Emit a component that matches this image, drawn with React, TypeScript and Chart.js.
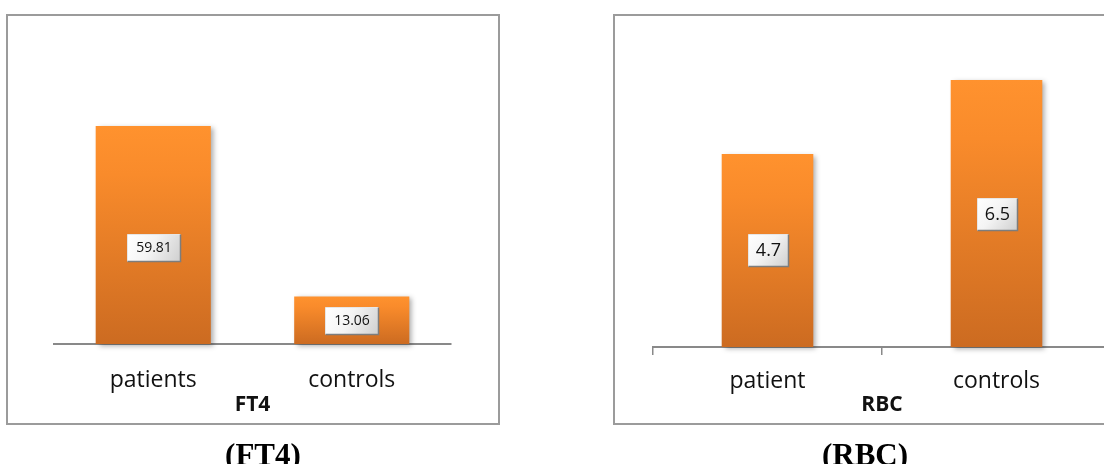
import React, { useEffect, useRef } from "react";
import { Chart, registerables } from "chart.js";

Chart.register(...registerables);

// FT4 panel
const ft4Categories = ["patients", "controls"];
const ft4Values = [59.81, 13.06];
const ft4Title = "FT4";
const ft4Caption = "(FT4)";

// RBC panel
const rbcCategories = ["patient", "controls"];
const rbcValues = [4.7, 6.5];
const rbcTitle = "RBC";
const rbcCaption = "(RBC)";

const FONT = '"Open Sans", "Noto Sans", sans-serif';
const AXIS_GREY = "#898989";

// Soft drop shadow behind the bars
const barShadow = {
  id: "barShadow",
  beforeDatasetsDraw(chart: any) {
    const c = chart.ctx;
    c.save();
    c.shadowColor = "rgba(0,0,0,0.32)";
    c.shadowBlur = 5;
    c.shadowOffsetX = 3;
    c.shadowOffsetY = 2;
  },
  afterDatasetsDraw(chart: any) {
    chart.ctx.restore();
  },
};

// Bevelled value boxes in the middle of each bar
const valueBoxes = {
  id: "valueBoxes",
  afterDatasetsDraw(chart: any, _args: any, opts: any) {
    const { ctx } = chart;
    const meta = chart.getDatasetMeta(0);
    const values = chart.data.datasets[0].data as number[];
    const shifts: number[] = opts.shiftY || [];
    ctx.save();
    ctx.font = `${opts.size}px ${FONT}`;
    ctx.textAlign = "center";
    ctx.textBaseline = "middle";
    meta.data.forEach((bar: any, i: number) => {
      const { x, y, base } = bar.getProps(["x", "y", "base"], true);
      const cy = (y + base) / 2 + (shifts[i] || 0);
      const text = String(values[i]);
      const tw = ctx.measureText(text).width;
      const w = Math.round(tw + opts.padX * 2);
      const h = opts.boxH;
      const bx = Math.round(x - w / 2) + 0.5;
      const by = Math.round(cy - h / 2) + 0.5;
      const g = ctx.createLinearGradient(bx, by, bx + w, by + h);
      g.addColorStop(0, "#ffffff");
      g.addColorStop(0.45, "#f4f4f4");
      g.addColorStop(1, "#cfcfcf");
      ctx.fillStyle = g;
      ctx.fillRect(bx, by, w, h);
      ctx.lineWidth = 1;
      ctx.strokeStyle = "#e6e6e6";
      ctx.beginPath();
      ctx.moveTo(bx, by + h);
      ctx.lineTo(bx, by);
      ctx.lineTo(bx + w, by);
      ctx.stroke();
      ctx.lineWidth = 1.5;
      ctx.strokeStyle = "#7d7d7d";
      ctx.beginPath();
      ctx.moveTo(bx + w, by);
      ctx.lineTo(bx + w, by + h);
      ctx.lineTo(bx, by + h);
      ctx.stroke();
      ctx.fillStyle = "#111111";
      ctx.fillText(text, bx + w / 2, by + h / 2 + 0.5);
    });
    ctx.restore();
  },
};

function barGradient(context: any) {
  const chart = context.chart;
  const yScale = chart.scales?.y;
  if (!yScale || context.type !== "data" || !context.parsed) return "#f58a2b";
  const top = yScale.getPixelForValue(context.parsed.y);
  const bottom = yScale.getPixelForValue(0);
  if (!isFinite(top) || !isFinite(bottom) || top === bottom) return "#f58a2b";
  const g = chart.ctx.createLinearGradient(0, top, 0, bottom);
  g.addColorStop(0, "#ff922e");
  g.addColorStop(0.22, "#f98b2b");
  g.addColorStop(1, "#cc6b21");
  return g;
}

type PanelProps = {
  categories: string[];
  values: number[];
  title: string;
  yMax: number;
  left: number;
  width: number;
  padding: { left: number; right: number; top: number; bottom: number };
  axisHeight: number;
  tickPad: number;
  tickMarks: boolean;
  barPercentage: number;
  valueSize: number;
  valuePadX: number;
  valueBoxH: number;
  valueShiftY?: number[];
};

function BarPanel(p: PanelProps) {
  const ref = useRef<HTMLCanvasElement>(null);
  useEffect(() => {
    if (!ref.current) return;
    const chart = new Chart(ref.current, {
      type: "bar",
      data: {
        labels: p.categories,
        datasets: [
          {
            data: p.values,
            backgroundColor: barGradient,
            borderWidth: 0,
            barPercentage: p.barPercentage,
            categoryPercentage: 1,
            clip: false as any,
          },
        ],
      },
      options: {
        responsive: false,
        animation: false,
        devicePixelRatio: 1,
        layout: { padding: p.padding },
        plugins: {
          legend: { display: false },
          tooltip: { enabled: false },
          valueBoxes: {
            size: p.valueSize,
            padX: p.valuePadX,
            boxH: p.valueBoxH,
            shiftY: p.valueShiftY,
          },
        } as any,
        scales: {
          x: {
            afterFit: (s: any) => {
              s.height = p.axisHeight;
            },
            grid: {
              display: p.tickMarks,
              drawOnChartArea: false,
              drawTicks: p.tickMarks,
              tickLength: p.tickMarks ? 8 : 0,
              color: AXIS_GREY,
              lineWidth: 1.5,
            },
            border: { display: true, color: AXIS_GREY, width: 2 },
            ticks: {
              color: "#111111",
              padding: p.tickPad,
              font: { family: FONT, size: 23 },
            },
            title: {
              display: true,
              text: p.title,
              color: "#111111",
              font: { family: FONT, size: 21, weight: "bold" },
              padding: { top: 0, bottom: 6 },
            },
          },
          y: { display: false, min: 0, max: p.yMax },
        },
      },
      plugins: [barShadow, valueBoxes],
    });
    return () => chart.destroy();
  }, []);
  return (
    <canvas
      ref={ref}
      width={p.width}
      height={464}
      style={{ position: "absolute", left: p.left, top: 0, width: p.width, height: 464 }}
    />
  );
}

const frame: React.CSSProperties = {
  position: "absolute",
  top: 14,
  height: 411,
  border: "2px solid #9b9b9b",
  boxSizing: "border-box",
};

const caption: React.CSSProperties = {
  position: "absolute",
  top: 439,
  width: 200,
  textAlign: "center",
  fontFamily: '"Liberation Serif", "Times New Roman", serif',
  fontWeight: "bold",
  fontSize: 31,
  lineHeight: "31px",
  color: "#000",
};

export default function App() {
  return (
    <div
      style={{
        position: "absolute",
        left: 0,
        top: 0,
        width: 1104,
        height: 464,
        overflow: "hidden",
        background: "#fff",
      }}
    >
      <div style={{ ...frame, left: 6, width: 494 }} />
      <div style={{ ...frame, left: 613, width: 560 }} />
      <BarPanel
        categories={ft4Categories}
        values={ft4Values}
        title={ft4Title}
        yMax={70}
        left={0}
        width={540}
        padding={{ left: 54, right: 89, top: 89, bottom: 40 }}
        axisHeight={80}
        tickPad={23}
        tickMarks={false}
        barPercentage={0.58}
        valueSize={14}
        valuePadX={8.5}
        valueBoxH={27}
        valueShiftY={[12, 0]}
      />
      <BarPanel
        categories={rbcCategories}
        values={rbcValues}
        title={rbcTitle}
        yMax={7}
        left={560}
        width={620}
        padding={{ left: 93, right: 69, top: 59.5, bottom: 40 }}
        axisHeight={77}
        tickPad={13}
        tickMarks={true}
        barPercentage={0.4}
        valueSize={18}
        valuePadX={7.5}
        valueBoxH={32}
      />
      <div style={{ ...caption, left: 163 }}>{ft4Caption}</div>
      <div style={{ ...caption, left: 765 }}>{rbcCaption}</div>
    </div>
  );
}
